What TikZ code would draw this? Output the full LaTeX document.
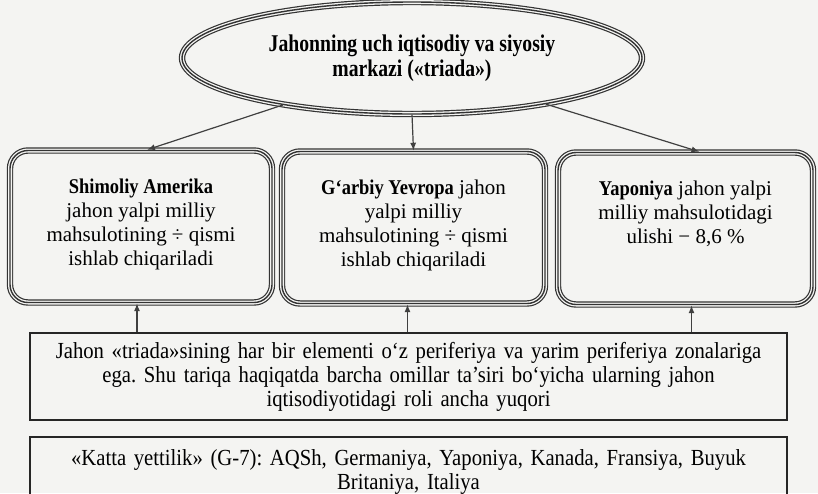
\documentclass[tikz,border=0pt]{standalone}
\usepackage{fontspec}
\setmainfont{Liberation Serif}
\newfontfamily\narrowserif[FakeStretch=0.88]{Liberation Serif}
\newfontfamily\titleserif[FakeStretch=0.82]{Liberation Serif}
\newfontfamily\lowserif[FakeStretch=0.9]{Liberation Serif}
\usetikzlibrary{shapes.geometric,arrows.meta}

\definecolor{paper}{RGB}{244,244,242}
\newcommand{\zonetext}[1]{\parbox[c][48pt][t]{124pt}{\centering #1}}
\newcommand{\zonename}[1]{{\narrowserif\bfseries #1}}

\begin{document}
\frenchspacing
\begin{tikzpicture}[x=0.5pt,y=-0.5pt,
  tripleline/.style={draw=black!80,line width=0.7pt,
    preaction={draw=black!80,line width=0.6pt,double=paper,double distance=2pt}},
  zonebox/.style={rectangle,rounded corners=9pt,tripleline,minimum width=#1,
    minimum height=76pt,inner sep=0pt,font=\fontsize{10.5}{12}\selectfont},
  plainbox/.style={draw=black!85,line width=0.6pt,minimum width=378.5pt,
    text width=372pt,align=center,inner sep=0pt,
    font=\lowserif\fontsize{11.5}{12}\selectfont},
  link/.style={draw=black!75,line width=0.6pt,-{Latex[length=4pt,width=3pt]}}]
  \clip (0,0) rectangle (818,493);
  \fill[paper] (0,0) rectangle (818,493);

  % centre and the three parts of the triad
  \node[ellipse,tripleline,minimum width=230pt,minimum height=56pt,inner sep=0pt,
    align=center,font=\titleserif\bfseries\fontsize{12}{12.5}\selectfont] (markaz) at (412,58)
    {Jahonning uch iqtisodiy va siyosiy\\markazi («triada»)};
  \node[zonebox=131pt] (amerika) at (141,226.5)
    {\zonetext{\zonename{Shimoliy Amerika}\\jahon yalpi milliy\\mahsulotining ÷ qismi\\ishlab chiqariladi}};
  \node[zonebox=131.5pt] (yevropa) at (413.5,227.5)
    {\zonetext{\zonename{G‘arbiy Yevropa} jahon\\yalpi milliy\\mahsulotining ÷ qismi\\ishlab chiqariladi}};
  \node[zonebox=127.5pt] (yaponiya) at (685.5,228.5)
    {\zonetext{\zonename{Yaponiya} jahon yalpi\\milliy mahsulotidagi\\ulishi − 8,6 \%}};

  % lower boxes
  \node[plainbox,minimum height=43.5pt] (periferiya) at (408.5,376.5)
    {Jahon «triada»sining har bir elementi o‘z periferiya va yarim periferiya zonalariga\\
     ega. Shu tariqa haqiqatda barcha omillar ta’siri bo‘yicha ularning jahon\\
     iqtisodiyotidagi roli ancha yuqori};
  \node[plainbox,minimum height=35pt] (yettilik) at (408.5,472)
    {«Katta yettilik» (G-7): AQSh, Germaniya, Yaponiya, Kanada, Fransiya, Buyuk\\
     Britaniya, Italiya};

  \draw[link] (markaz.200) -- ([xshift=3pt]amerika.north);
  \draw[link] (markaz.south) -- (yevropa.north);
  \draw[link] (markaz.-19) -- ([xshift=7pt]yaponiya.north);
  \foreach \zone/\dx in {amerika/-2pt,yevropa/-3pt,yaponiya/3pt}
    \draw[link] ([xshift=\dx]periferiya.north -| \zone.south) -- ([xshift=\dx]\zone.south);
\end{tikzpicture}
\end{document}
